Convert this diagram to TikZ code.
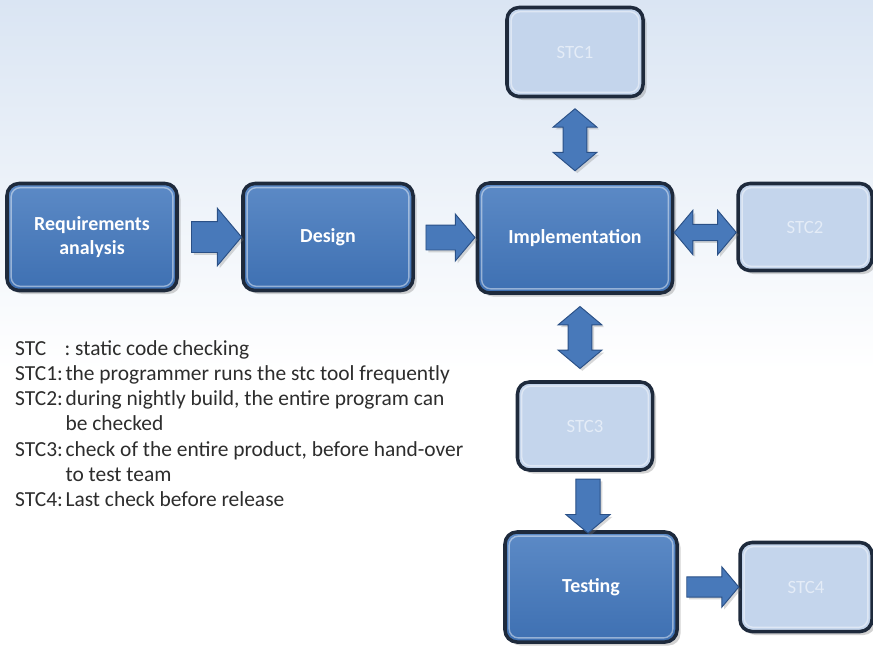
\documentclass[tikz,border=0pt]{standalone}
\usepackage{fontspec}
\setmainfont{Carlito}
\usetikzlibrary{ shapes.arrows, % For the block arrows
                 shadows,       % For the drop shadows
                 positioning,
               }
\definecolor{bgtop}{RGB}{218,229,243}
\definecolor{phasefill}{RGB}{62,112,178}
\definecolor{phasetop}{RGB}{92,138,198}
\definecolor{boxline}{RGB}{30,42,60}
\definecolor{checkfill}{RGB}{196,213,236}
\definecolor{checktext}{RGB}{228,236,247}
\definecolor{arrowfill}{RGB}{72,121,186}
\definecolor{arrowline}{RGB}{42,80,134}
\definecolor{legendtext}{RGB}{45,45,45}

\tikzstyle{box} = [rectangle, rounded corners=0.36cm, draw=boxline, line width=3pt,
  align=center, drop shadow={opacity=0.35, shadow xshift=3pt, shadow yshift=-3pt},
  path picture={\draw[line width=1.2pt, white, opacity=0.45, rounded corners=0.28cm]
    ([shift={(3.5pt,-3.5pt)}]path picture bounding box.north west) rectangle
    ([shift={(-3.5pt,3.5pt)}]path picture bounding box.south east);}]
\tikzstyle{phase} = [box, top color=phasetop, bottom color=phasefill, text=white,
  font=\fontsize{17}{21}\selectfont\bfseries]
\tikzstyle{check} = [box, fill=checkfill, text=checktext,
  font=\fontsize{16}{20}\selectfont]
\tikzstyle{fatarrow} = [single arrow, draw=arrowline, line width=0.8pt, fill=arrowfill,
  inner sep=0.36cm, single arrow head extend=0.33cm,
  single arrow tip angle=100, drop shadow={opacity=0.3, shadow xshift=2pt, shadow yshift=-2pt}]
\tikzstyle{fatarrow2} = [double arrow, draw=arrowline, line width=0.8pt, fill=arrowfill,
  inner sep=0.34cm, double arrow head extend=0.3cm,
  double arrow tip angle=100, minimum height=1.86cm,
  drop shadow={opacity=0.3, shadow xshift=2pt, shadow yshift=-2pt}]

\begin{document}
\begin{tikzpicture}[x=0.03cm, y=-0.03cm]
  \useasboundingbox (0,0) rectangle (873,649);
  \fill[white] (0,0) rectangle (873,649);
  \shade[top color=bgtop, bottom color=white] (0,0) rectangle (873,370);

  % phases
  \node (req) [phase, minimum width=5.1cm, minimum height=3.21cm] at (92,237) {Requirements\\analysis};
  \node (design) [phase, minimum width=5.1cm, minimum height=3.21cm] at (328,237) {Design};
  \node (impl) [phase, minimum width=5.85cm, minimum height=3.3cm] at (575,238) {Implementation};
  \node (test) [phase, minimum width=5.16cm, minimum height=3.3cm] at (591,587) {Testing};

  % static code checks
  \node (stc1) [check, minimum width=4.08cm, minimum height=2.67cm] at (575,52) {STC1};
  \node (stc2) [check, minimum width=4.02cm, minimum height=2.61cm] at (805,227) {STC2};
  \node (stc3) [check, minimum width=4.05cm, minimum height=2.64cm] at (585,426) {STC3};
  \node (stc4) [check, minimum width=3.96cm, minimum height=2.67cm] at (806,587) {STC4};

  % arrows
  \path (req.east) -- node [fatarrow, minimum height=1.5cm, inner sep=0.45cm, single arrow head extend=0.4cm] {} (design.west);
  \path (design.east) -- node [fatarrow, minimum height=1.47cm] {} (impl.west);
  \path (impl.east) -- node [fatarrow2, inner sep=0.23cm, double arrow head extend=0.42cm] {} (stc2.west);
  \path (stc1.south) -- node [fatarrow2, shape border rotate=90] {} (impl.north);
  \path (impl.south) -- node [fatarrow2, shape border rotate=90] {} (stc3.north);
  \path (stc3.south) -- node [fatarrow, minimum height=1.62cm, inner sep=0.35cm, single arrow head extend=0.3cm, shape border rotate=270] {} (test.north);
  \path (test.east) -- node [fatarrow, minimum height=1.56cm, inner sep=0.29cm, single arrow head extend=0.3cm] {} (stc4.west);

  % legend
  \node (legend) [anchor=base west, inner sep=0pt, text=legendtext,
    font=\fontsize{18.3}{21.6}\selectfont] at (15,355) {%
    \begin{tabular}[t]{@{}l@{\hspace{0.12em}}l@{}}
      \multicolumn{2}{@{}l@{}}{STC\hspace{0.85em}: static code checking}\\
      STC1: & the programmer runs the stc tool frequently\\
      STC2: & during nightly build, the entire program can\\
            & be checked\\
      STC3: & check of the entire product, before hand-over\\
            & to test team\\
      STC4: & Last check before release
    \end{tabular}};
\end{tikzpicture}
\end{document}
